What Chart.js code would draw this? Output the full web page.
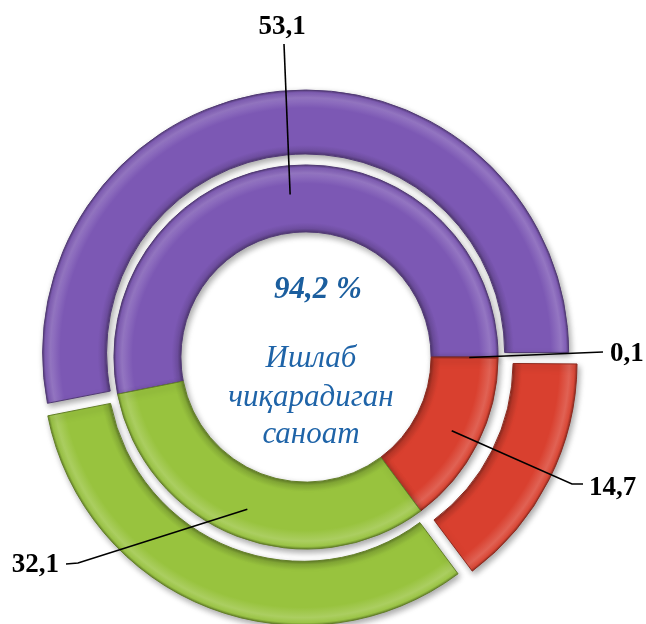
<!DOCTYPE html>
<html>
<head>
<meta charset="utf-8">
<script src="https://cdn.jsdelivr.net/npm/chart.js@4/dist/chart.umd.min.js"></script>
<style>
html, body { margin: 0; padding: 0; background: #fff; }
</style>
</head>
<body>
<canvas id="chart" width="646" height="624"></canvas>
<script>
// data
var categories = ['53,1', '0,1', '14,7', '32,1'];
var outerValues = [53.1, 0.1, 14.7, 32.1];
var innerValues = [53.1, 0.1, 14.7, 32.1];
var valueLabels = ['53,1', '0,1', '14,7', '32,1'];
var outerColors = ['#7C58B4', 'rgba(0,0,0,0)', '#D9402F', '#98C33E'];
var innerColors = ['#7C58B4', '#D9402F', '#D9402F', '#98C33E'];
var centerTitle = '94,2 %';
var centerLines = ['Ишлаб', 'чиқарадиган', 'саноат'];

var outerOffsets = [16, 0, 44, 36];   // exploded outer ring
var total = outerValues.reduce(function(a, b){ return a + b; }, 0);

function shade(hex, k) {
    if (hex.charAt(0) !== '#') return hex;
    var n = parseInt(hex.slice(1), 16);
    var r = (n >> 16) & 255, g = (n >> 8) & 255, b = n & 255;
    if (k < 0) { r = r * (1 + k); g = g * (1 + k); b = b * (1 + k); }
    else { r = r + (255 - r) * k; g = g + (255 - g) * k; b = b + (255 - b) * k; }
    return 'rgb(' + Math.round(r) + ',' + Math.round(g) + ',' + Math.round(b) + ')';
}

function colorsFor(i) { return i === 0 ? outerColors : innerColors; }

function ringFill(c) {
    if (c.dataIndex === undefined) return innerColors[0];
    var base = colorsFor(c.datasetIndex)[c.dataIndex];
    if (base.charAt(0) !== '#') return base;
    var chart = c.chart;
    var ctrl = chart.getDatasetMeta(c.datasetIndex).controller;
    var area = chart.chartArea;
    if (!area || !ctrl || !ctrl.outerRadius) return base;
    var cx = (area.left + area.right) / 2, cy = (area.top + area.bottom) / 2;
    var vals = c.datasetIndex === 0 ? outerValues : innerValues;
    var off = c.datasetIndex === 0 ? outerOffsets[c.dataIndex] / 4 : 0;
    var circ = vals[c.dataIndex] / total * Math.PI * 2;
    var grow = off * (1 - Math.sin(Math.min(Math.PI, circ)));
    var r1 = ctrl.innerRadius + grow, r2 = ctrl.outerRadius + grow;
    var g = chart.ctx.createRadialGradient(cx, cy, r1, cx, cy, r2);
    g.addColorStop(0, shade(base, -0.35));
    g.addColorStop(0.05, shade(base, -0.12));
    g.addColorStop(0.14, base);
    g.addColorStop(0.72, base);
    g.addColorStop(0.88, shade(base, 0.18));
    g.addColorStop(0.96, shade(base, 0.05));
    g.addColorStop(1, shade(base, -0.3));
    return g;
}

function borderCol(c) {
    if (c.dataIndex === undefined) return '#555';
    var base = colorsFor(c.datasetIndex)[c.dataIndex];
    if (base.charAt(0) !== '#') return base;
    return shade(base, -0.35);
}

var shadowPlugin = {
    id: 'shadow',
    beforeDatasetsDraw: function(chart) {
        var ctx = chart.ctx;
        ctx.save();
        ctx.shadowColor = 'rgba(0,0,0,0.35)';
        ctx.shadowBlur = 6;
        ctx.shadowOffsetX = 2;
        ctx.shadowOffsetY = 3;
    },
    afterDatasetsDraw: function(chart) {
        chart.ctx.restore();
    }
};

// where each value label sits, and the bend of its leader
var labelSpots = [
    { text: [282, 27], align: 'center', path: [[284, 44]] },
    { text: [610, 354], align: 'left', path: [[603, 352]] },
    { text: [589, 488], align: 'left', path: [[572, 484], [583, 484]] },
    { text: [59, 565], align: 'right', path: [[78, 563], [66, 564]] }
];

var labelPlugin = {
    id: 'labels',
    afterDraw: function(chart) {
        var ctx = chart.ctx;
        var arcs = chart.getDatasetMeta(2).data;
        ctx.save();
        ctx.strokeStyle = '#000';
        ctx.lineWidth = 1.6;
        for (var i = 0; i < arcs.length; i++) {
            var a = arcs[i];
            var mid = (a.startAngle + a.endAngle) / 2;
            var rr = a.innerRadius + 0.57 * (a.outerRadius - a.innerRadius);
            var px = a.x + Math.cos(mid) * rr, py = a.y + Math.sin(mid) * rr;
            var s = labelSpots[i];
            ctx.beginPath();
            ctx.moveTo(px, py);
            for (var j = 0; j < s.path.length; j++) ctx.lineTo(s.path[j][0], s.path[j][1]);
            ctx.stroke();
            ctx.fillStyle = '#000';
            ctx.font = 'bold 27px "Liberation Serif", "Times New Roman", serif';
            ctx.textAlign = s.align;
            ctx.textBaseline = 'middle';
            ctx.fillText(valueLabels[i], s.text[0], s.text[1]);
        }
        // centre text
        ctx.textAlign = 'center';
        ctx.textBaseline = 'alphabetic';
        ctx.fillStyle = '#1B5E9E';
        ctx.font = 'italic bold 31px "Liberation Serif", "Times New Roman", serif';
        ctx.fillText(centerTitle, 318, 298);
        ctx.fillStyle = '#1F64A8';
        ctx.font = 'italic 31px "Liberation Serif", "Times New Roman", serif';
        var ys = [367, 406, 443];
        for (var k = 0; k < centerLines.length; k++) ctx.fillText(centerLines[k], 311, ys[k]);
        ctx.restore();
    }
};

new Chart(document.getElementById('chart'), {
    type: 'doughnut',
    data: {
        labels: categories,
        datasets: [
            {
                data: outerValues,
                backgroundColor: ringFill,
                borderColor: borderCol,
                borderWidth: 1,
                offset: outerOffsets,
                weight: 64
            },
            {
                // thin empty ring between the two
                data: innerValues,
                backgroundColor: 'rgba(0,0,0,0)',
                borderWidth: 0,
                weight: 3
            },
            {
                data: innerValues,
                backgroundColor: ringFill,
                borderColor: borderCol,
                borderWidth: 1,
                weight: 67
            }
        ]
    },
    options: {
        responsive: false,
        animation: false,
        devicePixelRatio: 1,
        rotation: 90 - outerValues[0] / total * 360,
        radius: 259,
        cutout: '48.3%',
        layout: { padding: { left: 0, right: 34, top: 90, bottom: 0 } },
        plugins: {
            legend: { display: false },
            tooltip: { enabled: false }
        }
    },
    plugins: [shadowPlugin, labelPlugin]
});
</script>
</body>
</html>
